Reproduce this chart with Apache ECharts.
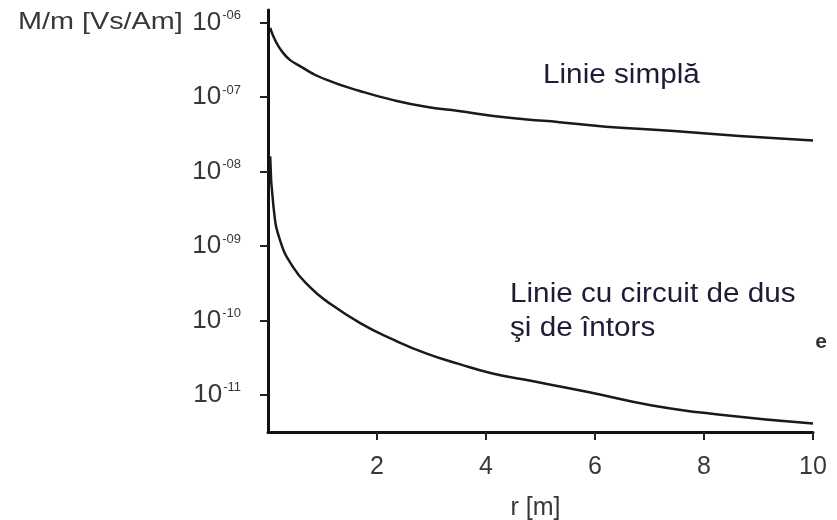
<!DOCTYPE html>
<html>
<head>
<meta charset="utf-8">
<script src="https://cdn.jsdelivr.net/npm/echarts@6/dist/echarts.min.js"></script>
<style>
  html, body { margin: 0; padding: 0; background: #fff; }
  #chart { width: 837px; height: 520px; }
</style>
</head>
<body>
<div id="chart"></div>
<script>
// Mutual inductance per unit length M/m versus distance r
// Single line ("Linie simplă")
const rSimple = [0.04, 0.28, 0.65, 1.08, 1.7, 2.3, 2.9, 3.5, 4.1, 4.75, 5.35, 6.2, 7.45, 8.65, 10];
const mSimple = [8.5e-7, 3.9e-7, 2.45e-7, 1.7e-7, 1.2e-7, 9.1e-8, 7.4e-8, 6.5e-8, 5.6e-8, 5.0e-8, 4.6e-8, 4.0e-8, 3.5e-8, 3.0e-8, 2.6e-8];

// Line with go-and-return circuit ("Linie cu circuit de dus şi de întors")
const rLoop = [0.04, 0.1, 0.22, 0.46, 0.77, 1.08, 1.7, 2.3, 2.9, 3.5, 4.1, 4.7, 5.85, 7.05, 8.3, 10];
const mLoop = [1.6e-8, 3.4e-9, 1.2e-9, 5.2e-10, 2.8e-10, 1.8e-10, 9.1e-11, 5.5e-11, 3.6e-11, 2.6e-11, 1.95e-11, 1.6e-11, 1.1e-11, 7.2e-12, 5.4e-12, 4.1e-12];

// Axis ticks
const xTickValues = [2, 4, 6, 8, 10];
const yTickExponents = [-11, -10, -9, -8, -7, -6];

const labelFont = '"Liberation Sans", Arial, sans-serif';
const axisTextColor = '#383838';
const noteColor = '#1c1c36';
const chart = echarts.init(document.getElementById('chart'), null, { renderer: 'canvas' });

// 10 with a two-digit superscript exponent, e.g. 10^-07
function expLabel(v) {
  const e = Math.round(Math.log10(v));
  const s = (e < 0 ? '-' : '') + String(Math.abs(e)).padStart(2, '0');
  return '{b|10}{s|' + s + '}';
}

chart.setOption({
  animation: false,
  backgroundColor: '#fff',
  grid: { left: 268, right: 24, top: 10, bottom: 88, outerBoundsMode: 'none', containLabel: false },
  xAxis: {
    type: 'value',
    min: 0,
    max: 10,
    interval: 2,
    name: 'r [m]',
    nameLocation: 'middle',
    nameGap: 64,
    nameTextStyle: { fontFamily: labelFont, fontSize: 25, color: axisTextColor, padding: [0, 10, 0, 0] },
    splitLine: { show: false },
    axisLine: { lineStyle: { color: '#111', width: 3 } },
    axisTick: { length: 8, lineStyle: { color: '#222', width: 2 }, customValues: xTickValues },
    axisLabel: {
      margin: 23,
      fontFamily: labelFont, fontSize: 25, color: axisTextColor,
      customValues: xTickValues
    }
  },
  yAxis: {
    type: 'log',
    logBase: 10,
    min: Math.pow(10, -11.5),
    max: Math.pow(10, -5.83),
    splitLine: { show: false },
    axisLine: { lineStyle: { color: '#111', width: 3 } },
    axisTick: {
      length: 8, lineStyle: { color: '#222', width: 2 },
      customValues: yTickExponents.map(e => Math.pow(10, e))
    },
    axisLabel: {
      margin: 27,
      customValues: yTickExponents.map(e => Math.pow(10, e)),
      formatter: expLabel,
      rich: {
        b: { fontFamily: labelFont, fontSize: 26, color: axisTextColor },
        s: { fontFamily: labelFont, fontSize: 13, color: axisTextColor, verticalAlign: 'top', padding: [0, 0, 14, 1] }
      }
    }
  },
  graphic: [
    { type: 'text', x: 18, y: 10, scaleX: 1.2,
      style: { text: 'M/m [Vs/Am]', font: '24px ' + labelFont, fill: axisTextColor } },
    { type: 'text', x: 543, y: 62, scaleX: 1.1,
      style: { text: 'Linie simplă', font: '27px ' + labelFont, fill: noteColor } },
    { type: 'text', x: 510, y: 278, scaleX: 1.1,
      style: { text: 'Linie cu circuit de dus\nşi de întors', font: '27px ' + labelFont, fill: noteColor, lineHeight: 34 } },
    { type: 'text', x: 821, y: 342,
      style: { text: 'e', font: 'bold 21px ' + labelFont, fill: '#333', align: 'center', verticalAlign: 'middle' } }
  ],
  series: [
    {
      name: 'Linie simplă',
      type: 'line',
      smooth: true,
      symbol: 'none',
      lineStyle: { color: '#1a1a1a', width: 2.5 },
      data: rSimple.map((r, i) => [r, mSimple[i]])
    },
    {
      name: 'Linie cu circuit de dus şi de întors',
      type: 'line',
      smooth: true,
      symbol: 'none',
      lineStyle: { color: '#1a1a1a', width: 2.5 },
      data: rLoop.map((r, i) => [r, mLoop[i]])
    }
  ]
});
</script>
</body>
</html>
